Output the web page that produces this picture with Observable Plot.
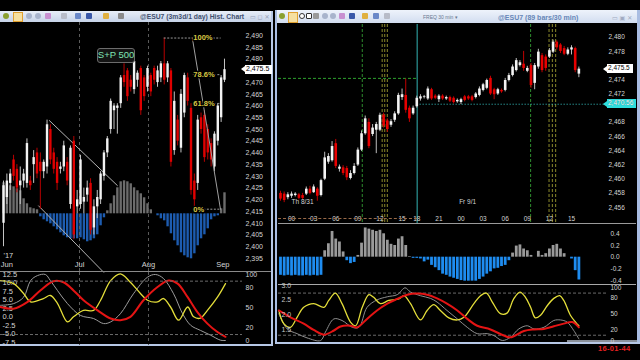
<!DOCTYPE html>
<html><head><meta charset="utf-8">
<script src="https://cdn.jsdelivr.net/npm/d3@7"></script>
<script src="https://cdn.jsdelivr.net/npm/@observablehq/plot@0.6"></script>
<style>
html,body{margin:0;padding:0;background:#000}
body{width:640px;height:360px;overflow:hidden;font-family:"Liberation Sans",Arial,sans-serif}
#root{position:absolute;left:0;top:0;width:640px;height:360px;background:#000;overflow:hidden}
</style></head>
<body><div id="root"></div>
<script>
// ===================== DATA: daily chart (left) =====================
const dayIdx   = [0,1,2,3,4,5,6,7,8,9,10,11,12,13,14,15,16,17,18,19,20,21,22,23,24,25,26,27,28,29,30,31,32,33,34,35,36,37,38,39,40,41,42,43,44,45,46,47,48,49,50,51,52,53,54,55,56,57,58,59,60,61,62,63,64,65,66];
const dayOpen  = [2410,2421,2427,2437,2433,2426,2428,2427,2428,2435,2440,2436,2432,2434,2450,2440,2436,2433,2434,2436,2418,2445,2417,2418,2419,2422,2427,2408,2417,2420,2430,2440,2450,2458,2459,2461,2473,2475,2471,2467,2471,2476,2472,2468,2473,2476,2470,2472,2478,2472,2475,2441,2454,2442,2457,2472,2459,2428,2427,2455,2456,2450,2444,2434,2445,2455,2471];
const dayHigh  = [2428,2431,2433,2439,2435,2434,2433,2446,2430,2441,2442,2440,2437,2454,2452,2442,2438,2436,2445,2438,2443,2447,2424,2439,2425,2428,2429,2420,2424,2432,2441,2447,2463,2461,2461,2473,2478,2476,2473,2480,2475,2477,2473,2477,2474,2477,2477,2479,2489,2479,2476,2466,2456,2467,2474,2474,2461,2431,2456,2457,2458,2452,2446,2449,2461,2473,2480];
const dayLow   = [2400,2418,2424,2428,2423,2418,2425,2425,2424,2427,2429,2416,2429,2431,2435,2431,2424,2431,2432,2426,2416,2403,2414,2416,2414,2419,2405,2405,2412,2418,2428,2438,2448,2450,2448,2459,2468,2462,2466,2465,2468,2456,2462,2466,2464,2469,2468,2470,2469,2470,2434,2439,2443,2440,2455,2460,2422,2416,2424,2448,2436,2437,2434,2432,2443,2453,2470];
const dayClose = [2426,2428,2431,2430,2425,2428,2431,2444,2426,2438,2431,2432,2436,2452,2437,2433,2427,2434,2443,2428,2442,2405,2420,2437,2421,2425,2407,2417,2421,2431,2440,2446,2462,2460,2460,2472,2470,2464,2468,2479,2474,2458,2464,2476,2466,2471,2475,2478,2471,2478,2436,2462,2445,2465,2473,2462,2424,2420,2454,2450,2438,2440,2437,2448,2460,2472,2475.5];
const dayHist  = [3.1,3.0,2.8,2.7,2.5,2.3,1.5,1.0,0.6,0.5,0.4,-0.3,-0.6,-0.8,-1.0,-1.3,-1.6,-1.9,-2.2,-2.4,-2.5,-2.5,-2.5,-2.4,-2.6,-2.8,-2.7,-2.5,-2.1,-1.2,-0.4,0.3,1.0,1.8,2.6,3.2,3.3,3.2,3.0,2.6,2.3,2.0,1.6,1.0,0.4,0.0,-0.2,-0.5,-0.7,-1.3,-2.0,-2.7,-3.2,-3.9,-4.2,-4.4,-4.5,-4.0,-3.2,-2.5,-2.1,-1.5,-0.6,-0.3,-0.2,0.5,2.1];
const monthTickDay   = [1,22.7,43.3,65.5];
const monthTickLabel = ["Jun","Jul","Aug","Sep"];
const monthGridDay   = [22.7,43.3];
const yearLabel = "'17";
const priceTicksL = [2395,2400,2405,2410,2415,2420,2425,2430,2435,2440,2445,2450,2455,2460,2465,2470,2480,2485,2490];
const fibHigh = 2489, fibLow = 2416;
const fibPct   = [1, 0.786, 0.618, 0];
const fibLabel = ["100%","78.6%","61.8%","0%"];
const fibFromDay = [48, 56.7, 56.7, 56.7];
const fibTextDay = 56.7, fibToDay = 65;
const fibTrendDay = [56.4, 64.8], fibTrendPrice = [2489, 2416];
const chanADay = [13.7, 34.0], chanAPrice = [2453.8, 2426.1];
const chanBDay = [10.5, 29.9], chanBPrice = [2417.4, 2389.1];
const spxLabel = "S+P 500", spxDay = 33.7, spxPrice = 2481.3;
const lastPrice = 2475.5;
// daily oscillators (left lower pane)
const oscYDay = [-0.9,3.0,6.0,8.1,11.9,14.0,16.1,19.1,20.9,23.9,26.9,29.0,32.0,34.9,37.9,40.9,43.0,46.0,47.8,49.9,52.3,55.0,56.8,58.8,60.9,63.9,66.3];
const oscYVal = [10.7,9.8,6.9,4.4,5.4,6.3,4.0,-1.5,0,1.9,1.9,4.9,10.7,12.7,10.2,6.9,4.9,4.4,5.4,2.9,-1.0,2.9,0,-0.4,1.9,5.8,9.8];
const oscRDay = [-0.9,3.0,7.2,11.0,14.9,17.9,20.9,23.9,28.1,32.0,34.9,37.9,41.8,46.0,49.3,52.0,55.0,57.9,60.9,63.9,66.3];
const oscRVal = [2.9,2.4,4.4,7.8,10.5,10.2,7.8,4.9,1.9,-0.5,-1.0,0,4.9,8.8,10.7,9.8,5.8,1.4,-2.0,-4.5,-5.9];
const oscGDay = [-0.9,3.0,6.0,8.1,10.2,12.5,14.0,16.1,19.1,23.0,26.9,29.9,32.0,34.9,38.8,43.0,45.4,47.8,50.8,53.5,55.9,58.8,61.8,64.8,66.3];
const oscGVal = [3.4,3.9,5.8,10.7,12.2,12.5,10.7,7.8,3.9,0.4,-0.5,-2.0,-1.5,0.9,6.8,11.7,12.5,11.3,6.8,0.9,-2.5,-4.0,-5.4,-6.9,-7.0];
const oscTicksL = [12.5,10.0,7.5,5.0,2.5,0.0,-2.5,-5.0,-7.5];
const stochTicks = [0,20,50,80,100];
const stochBands = [10,90];

// ===================== DATA: 30-min chart (right) =====================
const barIdx = d3.range(82);
const barOpen  = [2458.0,2457.9,2457.4,2457.6,2457.7,2457.8,2457.7,2457.9,2458.6,2458.1,2458.6,2457.7,2460.0,2462.4,2462.6,2465.0,2461.4,2461.6,2461.5,2460.1,2460.8,2462.0,2464.1,2466.4,2468.0,2466.3,2466.9,2466.9,2469.0,2468.2,2467.6,2468.3,2469.2,2471.5,2471.8,2470.0,2469.2,2470.2,2471.3,2471.5,2471.3,2472.6,2471.7,2471.2,2471.7,2471.3,2471.5,2471.4,2470.9,2470.8,2471.6,2471.6,2471.6,2471.5,2471.8,2472.5,2472.8,2474.2,2472.6,2472.0,2472.5,2472.5,2473.9,2474.6,2475.3,2476.0,2476.2,2475.2,2476.0,2473.5,2475.8,2477.4,2477.2,2477.2,2477.9,2479.3,2478.9,2478.4,2477.6,2478.2,2478.4,2474.8];
const barHigh  = [2458.3,2458.2,2458.1,2458.2,2458.1,2458.0,2458.0,2458.9,2459.0,2459.2,2458.8,2460.0,2463.8,2463.6,2465.3,2465.6,2462.0,2461.9,2461.8,2461.2,2462.2,2464.4,2466.8,2468.9,2468.5,2467.7,2468.0,2469.3,2469.3,2468.5,2468.4,2469.5,2472.1,2472.7,2474.1,2470.3,2470.3,2471.7,2471.9,2471.8,2473.0,2472.8,2471.9,2471.9,2471.9,2471.7,2471.7,2471.6,2471.3,2471.4,2471.8,2471.8,2471.8,2472.2,2473.0,2473.5,2474.1,2474.5,2472.8,2472.8,2472.7,2474.2,2474.9,2476.1,2477.0,2476.7,2478.0,2475.9,2476.3,2476.3,2478.3,2477.7,2477.5,2478.4,2479.6,2479.5,2479.1,2478.7,2478.5,2478.8,2478.6,2475.8];
const barLow   = [2456.9,2456.7,2457.1,2457.3,2457.5,2457.1,2457.1,2457.7,2457.8,2458.0,2456.9,2457.5,2459.8,2462.1,2462.4,2461.5,2461.0,2460.5,2459.8,2459.9,2460.6,2461.8,2463.9,2466.2,2464.3,2466.0,2463.6,2466.7,2467.2,2466.6,2467.3,2468.0,2469.0,2471.1,2469.3,2468.0,2469.0,2470.0,2471.0,2471.3,2471.1,2471.1,2471.2,2470.8,2471.1,2471.1,2470.8,2470.6,2470.7,2470.5,2470.9,2471.1,2470.9,2471.3,2471.6,2472.3,2472.6,2471.8,2471.2,2471.8,2472.1,2472.3,2473.7,2474.4,2475.1,2475.8,2475.2,2475.0,2472.8,2472.6,2475.5,2475.0,2475.2,2477.0,2477.7,2478.2,2477.7,2477.4,2477.4,2477.5,2475.0,2474.3];
const barClose = [2457.2,2457.0,2457.8,2457.9,2457.9,2457.3,2457.3,2458.6,2458.0,2458.9,2457.6,2459.8,2463.0,2463.2,2464.6,2461.8,2461.7,2460.8,2460.2,2460.8,2461.8,2464.1,2466.4,2468.5,2464.6,2467.2,2467.7,2469.0,2467.5,2467.0,2468.1,2469.2,2471.8,2471.9,2469.7,2468.5,2470.0,2471.4,2471.6,2471.6,2472.7,2471.3,2471.4,2471.7,2471.3,2471.5,2471.0,2470.8,2471.1,2471.2,2471.1,2471.3,2471.1,2472.0,2472.7,2473.3,2473.9,2472.0,2471.9,2472.6,2472.3,2473.9,2474.6,2475.8,2476.7,2476.4,2475.6,2475.6,2473.2,2476.0,2477.9,2475.3,2475.6,2478.1,2479.3,2478.5,2478.0,2477.6,2478.2,2478.5,2475.3,2475.5];
const barMacd  = [-0.31,-0.32,-0.31,-0.32,-0.31,-0.32,-0.32,-0.31,-0.32,-0.31,-0.32,-0.31,0.11,0.23,0.44,0.31,0.26,0.09,-0.06,-0.11,-0.09,0.03,0.24,0.50,0.48,0.46,0.44,0.46,0.40,0.29,0.22,0.20,0.31,0.35,0.20,0.01,-0.02,-0.02,-0.03,-0.08,-0.05,-0.14,-0.18,-0.23,-0.29,-0.31,-0.34,-0.36,-0.38,-0.40,-0.41,-0.41,-0.41,-0.41,-0.38,-0.34,-0.29,-0.25,-0.20,-0.19,-0.16,-0.14,-0.06,0.07,0.19,0.21,0.14,0.11,0.03,0.0,0.10,0.03,0.06,0.14,0.20,0.22,0.14,0.06,0.0,-0.03,-0.23,-0.39];
const timeTickBar   = [3,9,15,21,27,33,37,43,49,55,61,67,73,79];
const timeTickLabel = ["00","03","06","09","12","15","18","21","00","03","06","09","12","15"];
const dayLabelBar   = [3,48.5];
const dayLabelText  = ["Th 8/31","Fr 9/1"];
const priceTicksR = [2456,2458,2460,2462,2464,2466,2468,2472,2474,2478,2480];
const greenVBar = [22.2,67.9];
const oliveVBar = [27.6,28.3,29.0,72.9,73.8,74.7];
const cyanVBar  = [37.1];
const greenHPrice = 2474.2, greenHFrom = -0.54, greenHTo = 37.1;
const cyanHPrice = 2470.56, cyanHFrom = 37.1, cyanHTo = 88.5;
const macdTicks = [-0.4,-0.2,0.0,0.2,0.4];
const stYBar = [-0.45,0.9,2.7,4.5,6.3,9.0,11.8,13.1,14.9,16.7,19.0,20.4,22.2,24.0,25.3,27.1,29.4,32.1,33.5,35.3,38.0,39.8,41.6,43.4,45.7,48.0,49.8,52.5,54.3,55.9,57.5,59.7,61.5,63.3,65.0,66.5,67.9,69.2,70.6,72.4,74.2,75.8,76.9,78.7,80.1,81.0];
const stYVal = [57,32,25,44,63,70,63,76,90,70,35,28,63,87,82,70,76,79,85,70,39,57,68,57,43,39,44,70,85,90,73,51,52,79,92,82,63,43,48,66,80,85,76,48,35,28];
const stRBar = [-0.45,2.7,6.3,9.0,11.8,14.5,16.3,19.0,20.8,23.5,26.2,29.0,31.7,34.4,37.1,39.8,42.5,45.2,48.0,50.7,53.4,57.0,60.6,62.4,66.1,68.8,71.5,74.2,76.9,79.2,81.0];
const stRVal = [57,44,32,20,11,19,26.6,28,25,41,57,70,79,87,89,87,80,70,57,41,28,21,9.5,6,18,21,22,27,32,35,25];
const stGBar = [-0.45,1.8,4.5,7.2,10.9,12.2,14.5,16.7,19.5,21.3,23.5,26.2,29.0,31.7,33.8,35.3,38.0,40.7,42.5,45.2,48.0,50.7,53.4,56.1,57.9,60.2,62.4,64.7,67.0,68.8,71.5,74.2,76.0,77.8,79.6,81.0];
const stGVal = [51,22,13,5,0,16,41,38,25,25,63,77,83,87,100,92,85,80,73,57,41,25,13,13,9.5,0,6,22,28,22,25,38,39,35,19,3];
const aux30Ticks = [1.5,2.0,2.5,3.0];
const clockText = "16-01-44";

// ===================== helpers =====================
const root = document.getElementById("root");
function box(l,t,w,h,css){const d=document.createElement("div");d.style.cssText=`position:absolute;left:${l}px;top:${t}px;width:${w}px;height:${h}px;${css||""}`;root.appendChild(d);return d;}
function txt(l,t,s,css){const d=document.createElement("div");d.textContent=s;d.style.cssText=`position:absolute;left:${l}px;top:${t}px;white-space:nowrap;${css||""}`;root.appendChild(d);return d;}
function place(svg,l,t,ov){svg.style.position="absolute";svg.style.left=l+"px";svg.style.top=t+"px";svg.style.maxWidth="none";svg.style.overflow=ov||"visible";svg.style.background="none";root.appendChild(svg);return svg;}
const baseStyle = {background:"none",color:"#d4d4d4",fontFamily:"Liberation Sans, Arial, sans-serif",fontSize:"7px",overflow:"visible"};
const isUp = r => r.c >= r.o;

// ===================== window chrome =====================
box(0,11,272,11,"background:linear-gradient(#e8eef8,#c6d3e8);");
box(271,11,2,335,"background:#b7c8e6;");
box(0,344,273,2,"background:#b7c8e6;");
box(275,10,364,13,"background:linear-gradient(#eef3fb,#d2ddf0);");
box(275,10,2,334,"background:#a9bde2;");
box(637,10,3,334,"background:#a9bde2;");
box(275,342,365,2,"background:#b7c8e6;");
box(567,340,70,2,"background:#8a909a;");
// toolbar icons (left)
const iconsL = [[3,"#8aa030","50%"],[13,"#f2d890",""],[26,"#a8b4cc","50%"],[35,"#a8b4cc","50%"],[45,"#c890d0",""],[61,"#b8bcc8",""],[75,"#6a88c8",""],[86,"#3a58a8",""],[103,"#e0b040",""],[118,"#8a8a8a",""]];
iconsL.forEach(([x,c,r])=>box(x,13,6,6,`background:${c};border-radius:${r||"1px"};`));
box(13,12,8,8,"border:1px solid #e0a030;background:#f6e0a0;");
txt(140,11.5,"@ESU7 (3m3d/1 day) Hist. Chart","font:bold 6.8px 'Liberation Sans',Arial;color:#404e6e;line-height:10px;");
txt(250,11.5,"▭ ◻ ✕","font:6px 'DejaVu Sans';color:#98a2b8;line-height:10px;");
// toolbar icons (right)
const iconsR = [[279,"#8aa030","50%"],[299,"#ffffff","50%"],[306,"#ffffff",""],[313,"#9a9a9a",""],[322,"#a8b4cc","50%"],[330,"#a8b4cc","50%"],[339,"#c890d0",""],[349,"#3a58a8",""],[362,"#e0b040",""],[373,"#6a88c8",""],[384,"#b8bcc8",""]];
iconsR.forEach(([x,c,r])=>box(x,13,6,6,`background:${c};border-radius:${r||"1px"};border:${c==="#ffffff"?"1px solid #333":"none"};box-sizing:border-box;`));
box(288,12,8,9,"border:1px solid #e0a030;background:#f6e0a0;");
txt(423,12.5,"FREQ 30 min ▾","font:5px 'Liberation Sans',Arial;color:#6a7890;line-height:9px;");
txt(498,11.5,"@ESU7 (89 bars/30 min)","font:bold 7px 'Liberation Sans',Arial;color:#6686b8;line-height:11px;");
txt(612,11.5,"▭ ▣ ✕","font:6px 'DejaVu Sans';color:#a0aac0;line-height:11px;");

// ===================== LEFT: daily price pane =====================
const dayData = dayIdx.map((d,i)=>({d,o:dayOpen[i],h:dayHigh[i],l:dayLow[i],c:dayClose[i],v:dayHist[i]}));
const xL = {domain:[-0.9,71.38],axis:null};
const histL = Plot.plot({width:272,height:250,marginTop:0,marginLeft:0,marginBottom:0,marginRight:30,
  x:xL, y:{domain:[-5.87,19.13],axis:null}, style:baseStyle,
  marks:[Plot.ruleX(dayData,{x:"d",y1:0,y2:"v",stroke:r=>r.v>=0?"#6c6c6c":"#1d5cb0",strokeWidth:2.4})]});
place(histL,0,22);

const fibData = fibPct.map((p,i)=>({y:fibLow+p*(fibHigh-fibLow),label:fibLabel[i],from:fibFromDay[i]}));
const mainL = Plot.plot({width:272,height:250,marginTop:0,marginLeft:0,marginBottom:0,marginRight:30,
  x:xL,
  y:{domain:[2389.0,2495.63],axis:"right",ticks:priceTicksL,tickSize:0,tickPadding:3,tickFormat:d3.format(","),label:null},
  style:baseStyle,
  marks:[
    Plot.ruleX(monthGridDay,{stroke:"#5c5c5c",strokeDasharray:"3,3"}),
    Plot.line(chanADay.map((d,i)=>({d,p:chanAPrice[i]})),{x:"d",y:"p",stroke:"#b4b4b4",strokeWidth:1}),
    Plot.line(chanBDay.map((d,i)=>({d,p:chanBPrice[i]})),{x:"d",y:"p",stroke:"#b4b4b4",strokeWidth:1}),
    Plot.ruleX(dayData,{x:"d",y1:"l",y2:"h",stroke:r=>isUp(r)?"#c4c4c4":"#b80000",strokeWidth:1}),
    Plot.ruleX(dayData,{x:"d",y1:"o",y2:"c",stroke:r=>isUp(r)?"#f2f2f2":"#e00000",strokeWidth:2.4}),
    Plot.line(fibTrendDay.map((d,i)=>({d,p:fibTrendPrice[i]})),{x:"d",y:"p",stroke:"#a0a0a0",strokeWidth:1}),
    Plot.ruleY(fibData,{y:"y",x1:"from",x2:fibToDay,stroke:"#9a9a9a",strokeDasharray:"2,1.5"}),
    Plot.text(fibData,{x:fibTextDay,y:"y",text:"label",textAnchor:"start",fill:"#d8c844",stroke:"#000",strokeWidth:3,fontSize:7.5,fontWeight:"bold"}),
    Plot.text(monthTickDay,{x:d=>d,text:(d,i)=>monthTickLabel[i],frameAnchor:"bottom",dy:-6,fill:"#d4d4d4",fontSize:7.5}),
    Plot.text([yearLabel],{x:dayIdx[0],text:d=>d,frameAnchor:"bottom",dy:-15,fill:"#d4d4d4",fontSize:7.5,textAnchor:"start"})
  ]});
place(mainL,0,22);
box(0,271,271,1,"background:#8a8a8a;");
{
  const sx = mainL.scale("x").apply(spxDay), sy = mainL.scale("y").apply(spxPrice)+22;
  txt(sx-19,sy-7.5,spxLabel,"width:36px;height:13px;line-height:13px;text-align:center;font:9.5px 'Liberation Sans',Arial;color:#7fe4b4;background:#141414;border:1px solid #6c6c6c;border-radius:3px;");
  const py = mainL.scale("y").apply(lastPrice)+22;
  txt(245,py-4.5,d3.format(",.1f")(lastPrice),"width:26px;height:9px;line-height:9px;background:#fff;color:#000;font:7px 'Liberation Sans',Arial;padding-left:1px;");
  box(241,py-3,0,0,"border-top:3px solid transparent;border-bottom:3px solid transparent;border-right:4px solid #fff;");
}

// ===================== LEFT: oscillator pane =====================
const oscL = Plot.plot({width:272,height:73,marginTop:0,marginLeft:0,marginBottom:0,marginRight:30,
  x:xL, y:{domain:[-8.47,13.09],axis:null}, style:baseStyle,
  marks:[
    Plot.ruleX(monthGridDay,{stroke:"#5c5c5c",strokeDasharray:"3,3"}),
    Plot.text(oscTicksL,{y:d=>d,text:d=>d.toFixed(1),frameAnchor:"left",dx:2,textAnchor:"start",fill:"#d4d4d4",fontSize:7.5}),
    Plot.line(oscGDay.map((d,i)=>({d,v:oscGVal[i]})),{x:"d",y:"v",stroke:"#9c9c9c",strokeWidth:1,curve:"catmull-rom"}),
    Plot.line(oscYDay.map((d,i)=>({d,v:oscYVal[i]})),{x:"d",y:"v",stroke:"#e4de3a",strokeWidth:1.3,curve:"catmull-rom"}),
    Plot.line(oscRDay.map((d,i)=>({d,v:oscRVal[i]})),{x:"d",y:"v",stroke:"#e41414",strokeWidth:2,curve:"catmull-rom"})
  ]});
place(oscL,0,272);
const oscL2 = Plot.plot({width:272,height:73,marginTop:0,marginLeft:0,marginBottom:0,marginRight:30,
  x:xL, y:{domain:[-6.45,103.0],axis:"right",ticks:stochTicks,tickSize:0,tickPadding:3,label:null}, style:baseStyle,
  marks:[Plot.ruleY(stochBands,{stroke:"#6a6a6a",strokeDasharray:"3,2"})]});
place(oscL2,0,272);

// ===================== RIGHT: 30-min price pane =====================
const barData = barIdx.map(k=>({k,o:barOpen[k],h:barHigh[k],l:barLow[k],c:barClose[k],m:barMacd[k]}));
const xR = {domain:[-0.54,88.5],axis:null};
const mainR = Plot.plot({width:358,height:200,marginTop:0,marginLeft:0,marginBottom:0,marginRight:30,
  x:xR,
  y:{domain:[2453.62,2481.79],axis:"right",ticks:priceTicksR,tickSize:0,tickPadding:2,tickFormat:d3.format(","),label:null},
  style:{...baseStyle,fontSize:"6.5px"},
  marks:[
    Plot.ruleX(greenVBar,{stroke:"#2e8c2e",strokeDasharray:"3,2"}),
    Plot.ruleX(oliveVBar,{stroke:"#8c8a2c",strokeDasharray:"3,2"}),
    Plot.ruleX(cyanVBar,{stroke:"#34b4b4",strokeWidth:1}),
    Plot.ruleY([greenHPrice],{x1:greenHFrom,x2:greenHTo,stroke:"#2ea02e",strokeDasharray:"3,2"}),
    Plot.ruleY([cyanHPrice],{x1:cyanHFrom,x2:cyanHTo,stroke:"#38c8c8",strokeDasharray:"1,2"}),
    Plot.ruleX(barData,{x:"k",y1:"l",y2:"h",stroke:r=>isUp(r)?"#bcbcbc":"#c00000",strokeWidth:1}),
    Plot.ruleX(barData,{x:"k",y1:"o",y2:"c",stroke:r=>isUp(r)?"#f4f4f4":"#e80000",strokeWidth:2.6}),
    Plot.text(timeTickBar,{x:d=>d,text:(d,i)=>timeTickLabel[i],frameAnchor:"bottom",dy:-4,fill:"#d4d4d4",fontSize:6.5}),
    Plot.text(dayLabelBar,{x:d=>d,text:(d,i)=>dayLabelText[i],frameAnchor:"bottom",dy:-21,textAnchor:"start",fill:"#d4d4d4",fontSize:6.5})
  ]});
place(mainR,278,24);
box(278,218,139,0,"border-top:1px dashed #9a6a48;");
box(278,223,358,1,"background:#9a9a9a;");
{
  const py = mainR.scale("y").apply(lastPrice)+24;
  txt(607,py-4.5,d3.format(",.1f")(lastPrice),"width:25px;height:9px;line-height:9px;background:#fff;color:#000;font:6.5px 'Liberation Sans',Arial;padding-left:1px;");
  box(603,py-3,0,0,"border-top:3px solid transparent;border-bottom:3px solid transparent;border-right:4px solid #fff;");
  const cy = mainR.scale("y").apply(cyanHPrice)+24;
  txt(607,cy-4.5,d3.format(",.2f")(cyanHPrice),"width:28px;height:9px;line-height:9px;background:#2fdede;color:#fff;font:6.5px 'Liberation Sans',Arial;padding-left:1px;text-shadow:0 0 1px #066;");
  box(603,cy-3,0,0,"border-top:3px solid transparent;border-bottom:3px solid transparent;border-right:4px solid #2fdede;");
}

// ===================== RIGHT: MACD histogram =====================
const macdR = Plot.plot({width:358,height:60,marginTop:0,marginLeft:0,marginBottom:0,marginRight:30,
  x:xR, y:{domain:[-0.467,0.559],axis:"right",ticks:macdTicks,tickSize:0,tickPadding:4,tickFormat:d=>d.toFixed(1),label:null},
  style:{...baseStyle,fontSize:"6.5px"},
  marks:[Plot.ruleX(barData,{x:"k",y1:0,y2:"m",stroke:r=>r.m>=0?"#9a9a9a":"#1e8cf0",strokeWidth:2.8})]});
place(macdR,278,224);
box(278,284,358,1,"background:#a8a8a8;");

// ===================== RIGHT: stochastic pane =====================
const stR = Plot.plot({width:358,height:58,marginTop:0,marginLeft:0,marginBottom:0,marginRight:30,
  x:xR, y:{domain:[-3.8,106.3],axis:"right",ticks:stochTicks,tickSize:0,tickPadding:4,label:null},
  style:{...baseStyle,fontSize:"6.5px"},
  marks:[
    Plot.ruleY(stochBands,{stroke:"#6a6a6a",strokeDasharray:"3,2"}),
    Plot.line(stGBar.map((k,i)=>({k,v:stGVal[i]})),{x:"k",y:"v",stroke:"#8e8e8e",strokeWidth:1,curve:"catmull-rom"}),
    Plot.line(stYBar.map((k,i)=>({k,v:stYVal[i]})),{x:"k",y:"v",stroke:"#e4de3a",strokeWidth:1.3,curve:"catmull-rom"}),
    Plot.line(stRBar.map((k,i)=>({k,v:stRVal[i]})),{x:"k",y:"v",stroke:"#e41414",strokeWidth:2,curve:"catmull-rom"})
  ]});
place(stR,278,284);
const stR2 = Plot.plot({width:358,height:58,marginTop:0,marginLeft:0,marginBottom:0,marginRight:30,
  x:xR, y:{domain:[1.07,3.03],axis:null}, style:{...baseStyle,fontSize:"6.5px"},
  marks:[Plot.text(aux30Ticks,{y:d=>d,text:d=>d.toFixed(1),frameAnchor:"left",dx:3,textAnchor:"start",fill:"#c8c8c8",fontSize:7})]});
place(stR2,278,284);

txt(598,345,clockText,"font:bold 7.5px 'Liberation Sans',Arial;color:#e42020;line-height:7px;letter-spacing:0.3px;");
</script>
</body></html>
